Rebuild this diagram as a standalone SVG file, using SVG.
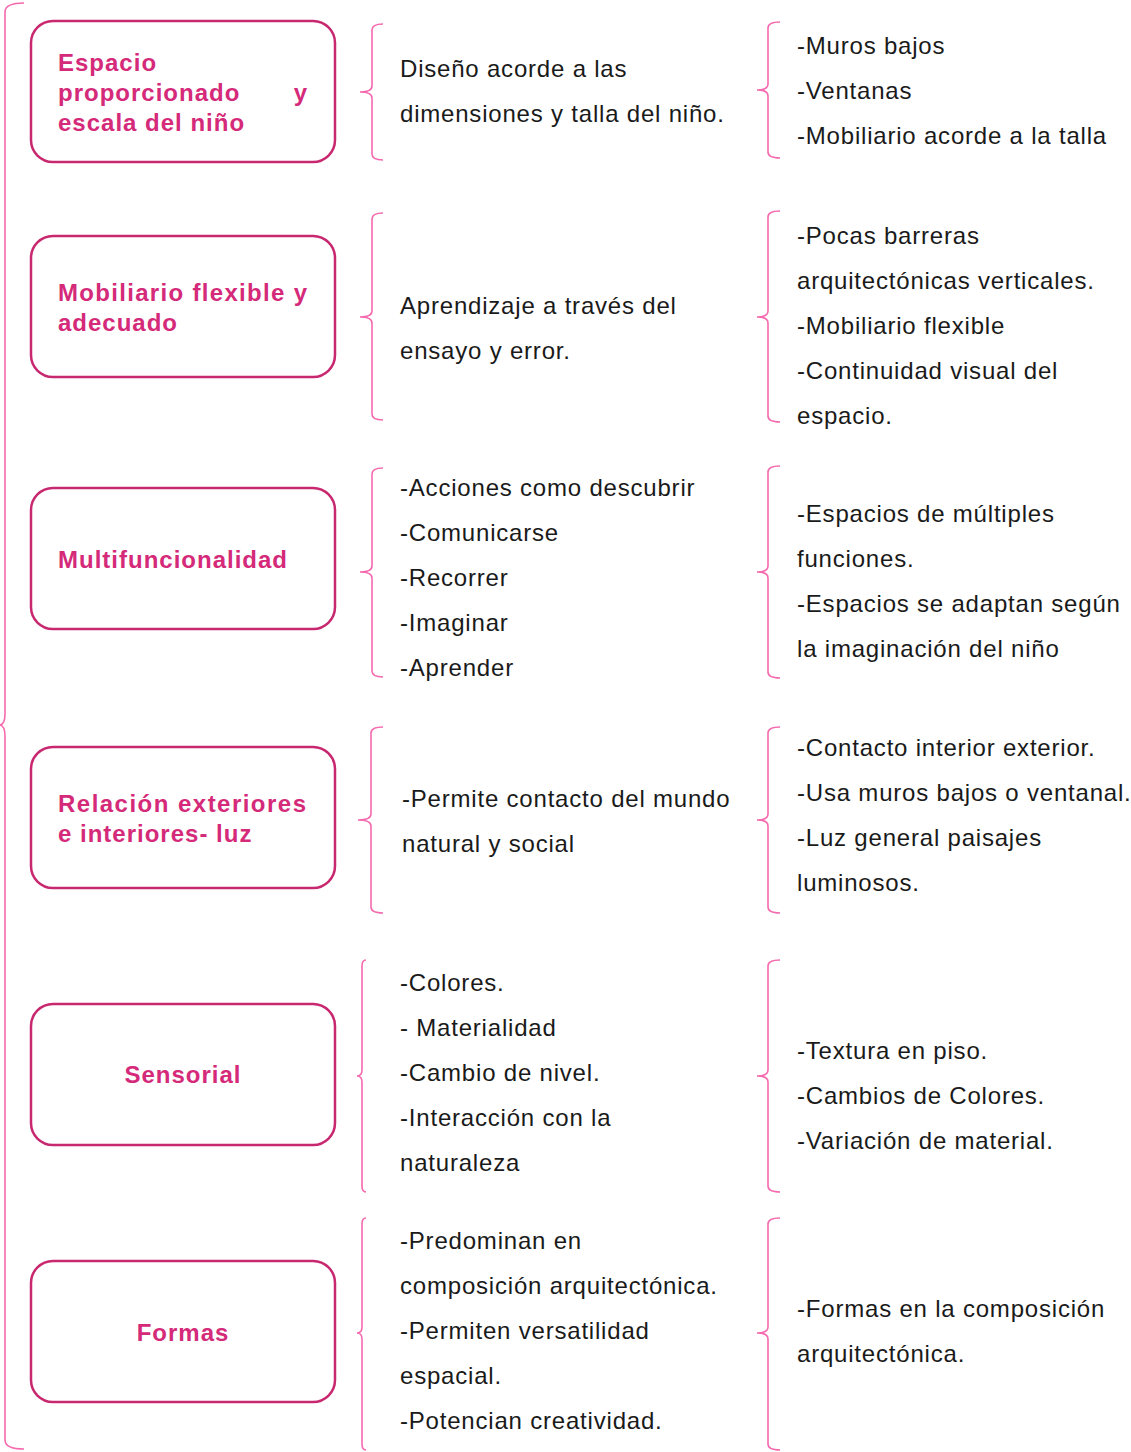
<svg xmlns="http://www.w3.org/2000/svg" width="1131" height="1452" viewBox="0 0 1131 1452">
<style>
.box{fill:#fff;stroke:#c8286f;stroke-width:2.5}
.bt{font-family:"Liberation Sans",Arial,sans-serif;font-size:24px;font-weight:bold;fill:#d42a79;letter-spacing:1px}
.t{font-family:"Liberation Sans",Arial,sans-serif;font-size:24px;fill:#1a1a1a;letter-spacing:0.8px}
.br{fill:none;stroke:#f56aae;stroke-width:1.6}
</style>
<rect width="1131" height="1452" fill="#fff"/>
<g id="connectors">
<path class="br" d="M24,3 Q5,3 5,12 L5,714 Q5,724 0,725 Q5,726 5,736 L5,1440 Q5,1449 24,1449"/>
<path class="br" d="M383,24 Q372,24 372,30 L372,86 Q372,92 360,92 Q372,92 372,98 L372,154 Q372,160 383,160"/>
<path class="br" d="M383,213 Q372,213 372,219 L372,311 Q372,317 360,317 Q372,317 372,323 L372,414 Q372,420 383,420"/>
<path class="br" d="M383,468 Q372,468 372,474 L372,566 Q372,572 360,572 Q372,572 372,578 L372,671 Q372,677 383,677"/>
<path class="br" d="M383,727 Q371,727 371,733 L371,814 Q371,820 358,820 Q371,820 371,826 L371,907 Q371,913 383,913"/>
<path class="br" d="M366,960 Q362,960 362,966 L362,1070 Q362,1076 357,1076 Q362,1076 362,1082 L362,1186 Q362,1192 366,1192"/>
<path class="br" d="M366,1218 Q362,1218 362,1224 L362,1327 Q362,1333 357,1333 Q362,1333 362,1339 L362,1444 Q362,1450 366,1450"/>
<path class="br" d="M780,22 Q768,22 768,28 L768,84 Q768,90 757,90 Q768,90 768,96 L768,152 Q768,158 780,158"/>
<path class="br" d="M780,211 Q768,211 768,217 L768,311 Q768,317 757,317 Q768,317 768,323 L768,416 Q768,422 780,422"/>
<path class="br" d="M780,466 Q768,466 768,472 L768,566 Q768,572 757,572 Q768,572 768,578 L768,672 Q768,678 780,678"/>
<path class="br" d="M780,727 Q768,727 768,733 L768,814 Q768,820 757,820 Q768,820 768,826 L768,907 Q768,913 780,913"/>
<path class="br" d="M780,960 Q768,960 768,966 L768,1070 Q768,1076 757,1076 Q768,1076 768,1082 L768,1186 Q768,1192 780,1192"/>
<path class="br" d="M780,1218 Q768,1218 768,1224 L768,1327 Q768,1333 757,1333 Q768,1333 768,1339 L768,1444 Q768,1450 780,1450"/>
</g>
<g id="node1">
<rect class="box" x="31" y="21" width="304" height="141" rx="22"/>
<text class="bt" x="58" y="71">Espacio</text>
<text class="bt" x="58" y="101">proporcionado</text>
<text class="bt" x="307" y="101" text-anchor="end" style="letter-spacing:0">y</text>
<text class="bt" x="58" y="131">escala del niño</text>
</g>
<g id="node2">
<rect class="box" x="31" y="236" width="304" height="141" rx="22"/>
<text class="bt" x="58" y="301" textLength="249" lengthAdjust="spacing" style="letter-spacing:0">Mobiliario flexible y</text>
<text class="bt" x="58" y="331">adecuado</text>
</g>
<g id="node3">
<rect class="box" x="31" y="488" width="304" height="141" rx="22"/>
<text class="bt" x="58" y="568">Multifuncionalidad</text>
</g>
<g id="node4">
<rect class="box" x="31" y="747" width="304" height="141" rx="22"/>
<text class="bt" x="58" y="812" textLength="248" lengthAdjust="spacing" style="letter-spacing:0">Relación exteriores</text>
<text class="bt" x="58" y="842">e interiores- luz</text>
</g>
<g id="node5">
<rect class="box" x="31" y="1004" width="304" height="141" rx="22"/>
<text class="bt" x="183" y="1083" text-anchor="middle">Sensorial</text>
</g>
<g id="node6">
<rect class="box" x="31" y="1261" width="304" height="141" rx="22"/>
<text class="bt" x="183" y="1341" text-anchor="middle">Formas</text>
</g>
<g id="mid1">
<text class="t" x="400" y="77">Diseño acorde a las</text>
<text class="t" x="400" y="122">dimensiones y talla del niño.</text>
</g>
<g id="mid2">
<text class="t" x="400" y="314">Aprendizaje a través del</text>
<text class="t" x="400" y="359">ensayo y error.</text>
</g>
<g id="mid3">
<text class="t" x="400" y="496">-Acciones como descubrir</text>
<text class="t" x="400" y="541">-Comunicarse</text>
<text class="t" x="400" y="586">-Recorrer</text>
<text class="t" x="400" y="631">-Imaginar</text>
<text class="t" x="400" y="676">-Aprender</text>
</g>
<g id="mid4">
<text class="t" x="402" y="807">-Permite contacto del mundo</text>
<text class="t" x="402" y="852">natural y social</text>
</g>
<g id="mid5">
<text class="t" x="400" y="991">-Colores.</text>
<text class="t" x="400" y="1036">- Materialidad</text>
<text class="t" x="400" y="1081">-Cambio de nivel.</text>
<text class="t" x="400" y="1126">-Interacción con la</text>
<text class="t" x="400" y="1171">naturaleza</text>
</g>
<g id="mid6">
<text class="t" x="400" y="1249">-Predominan en</text>
<text class="t" x="400" y="1294">composición arquitectónica.</text>
<text class="t" x="400" y="1339">-Permiten versatilidad</text>
<text class="t" x="400" y="1384">espacial.</text>
<text class="t" x="400" y="1429">-Potencian creatividad.</text>
</g>
<g id="right1">
<text class="t" x="797" y="54">-Muros bajos</text>
<text class="t" x="797" y="99">-Ventanas</text>
<text class="t" x="797" y="144">-Mobiliario acorde a la talla</text>
</g>
<g id="right2">
<text class="t" x="797" y="244">-Pocas barreras</text>
<text class="t" x="797" y="289">arquitectónicas verticales.</text>
<text class="t" x="797" y="334">-Mobiliario flexible</text>
<text class="t" x="797" y="379">-Continuidad visual del</text>
<text class="t" x="797" y="424">espacio.</text>
</g>
<g id="right3">
<text class="t" x="797" y="522">-Espacios de múltiples</text>
<text class="t" x="797" y="567">funciones.</text>
<text class="t" x="797" y="612">-Espacios se adaptan según</text>
<text class="t" x="797" y="657">la imaginación del niño</text>
</g>
<g id="right4">
<text class="t" x="797" y="756">-Contacto interior exterior.</text>
<text class="t" x="797" y="801">-Usa muros bajos o ventanal.</text>
<text class="t" x="797" y="846">-Luz general paisajes</text>
<text class="t" x="797" y="891">luminosos.</text>
</g>
<g id="right5">
<text class="t" x="797" y="1059">-Textura en piso.</text>
<text class="t" x="797" y="1104">-Cambios de Colores.</text>
<text class="t" x="797" y="1149">-Variación de material.</text>
</g>
<g id="right6">
<text class="t" x="797" y="1317">-Formas en la composición</text>
<text class="t" x="797" y="1362">arquitectónica.</text>
</g>
</svg>
